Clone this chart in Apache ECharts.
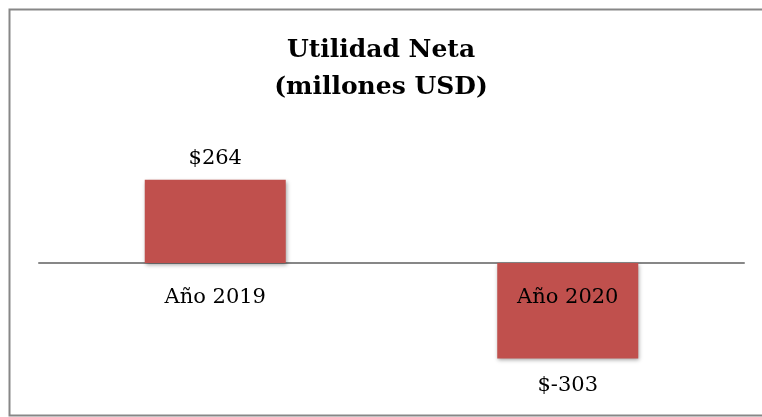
<!DOCTYPE html>
<html>
<head>
<meta charset="utf-8">
<script src="https://cdn.jsdelivr.net/npm/echarts@6/dist/echarts.min.js"></script>
<style>
  html, body { margin: 0; padding: 0; background: #fff; }
  #main { width: 762px; height: 417px; }
</style>
</head>
<body>
<div id="main"></div>
<script>
// datos
var categorias = ['Año 2019', 'Año 2020'];
var utilidad = [264, -303];
var base = [0, 0]; // posición de las etiquetas de categoría (sobre el eje)
var titulo = 'Utilidad Neta\n(millones USD)';

var fuente = '"DejaVu Serif", "Liberation Serif", serif';

var myChart = echarts.init(document.getElementById('main'));
myChart.setOption({
    backgroundColor: '#fff',
    animation: false,
    title: {
        text: titulo,
        left: 'center',
        top: 27,
        textStyle: {
            fontFamily: fuente,
            fontWeight: 'bold',
            fontSize: 25,
            lineHeight: 37,
            color: '#000'
        }
    },
    // marco del gráfico
    graphic: [{
        type: 'rect',
        shape: { x: 9.5, y: 9.5, width: 800, height: 406 },
        style: { fill: 'none', stroke: '#878787', lineWidth: 2 },
        silent: true
    }],
    grid: {
        left: 39,
        right: 18,
        top: 137,
        bottom: 28,
        outerBoundsMode: 'none',
        containLabel: false
    },
    xAxis: {
        type: 'category',
        data: categorias,
        axisLine: { onZero: true, lineStyle: { color: '#878787', width: 2 } },
        axisTick: { show: false },
        axisLabel: { show: false }
    },
    yAxis: {
        type: 'value',
        min: -400,
        max: 400,
        show: false,
        splitLine: { show: false }
    },
    series: [{
        name: 'Utilidad Neta',
        type: 'bar',
        data: utilidad.map(function (v) {
            // la etiqueta negativa queda un poco más separada de la barra
            return { value: v, label: { distance: v < 0 ? 17 : 11 } };
        }),
        barWidth: '40%',
        itemStyle: {
            color: '#C0504D',
            shadowBlur: 4,
            shadowOffsetX: 1,
            shadowOffsetY: 2,
            shadowColor: 'rgba(0,0,0,0.35)'
        },
        label: {
            show: true,
            position: 'outside',
            fontFamily: fuente,
            fontSize: 21,
            color: '#000',
            formatter: function (p) { return '$' + p.value; }
        }
    }, {
        // etiquetas de categoría debajo del eje
        name: 'categorias',
        type: 'scatter',
        data: base,
        symbolSize: 0,
        silent: true,
        z: 5,
        itemStyle: { opacity: 1 },
        label: {
            show: true,
            position: 'bottom',
            distance: 24,
            fontFamily: fuente,
            fontSize: 21,
            color: '#000',
            opacity: 1,
            formatter: function (p) { return p.name; }
        }
    }]
});
</script>
</body>
</html>
